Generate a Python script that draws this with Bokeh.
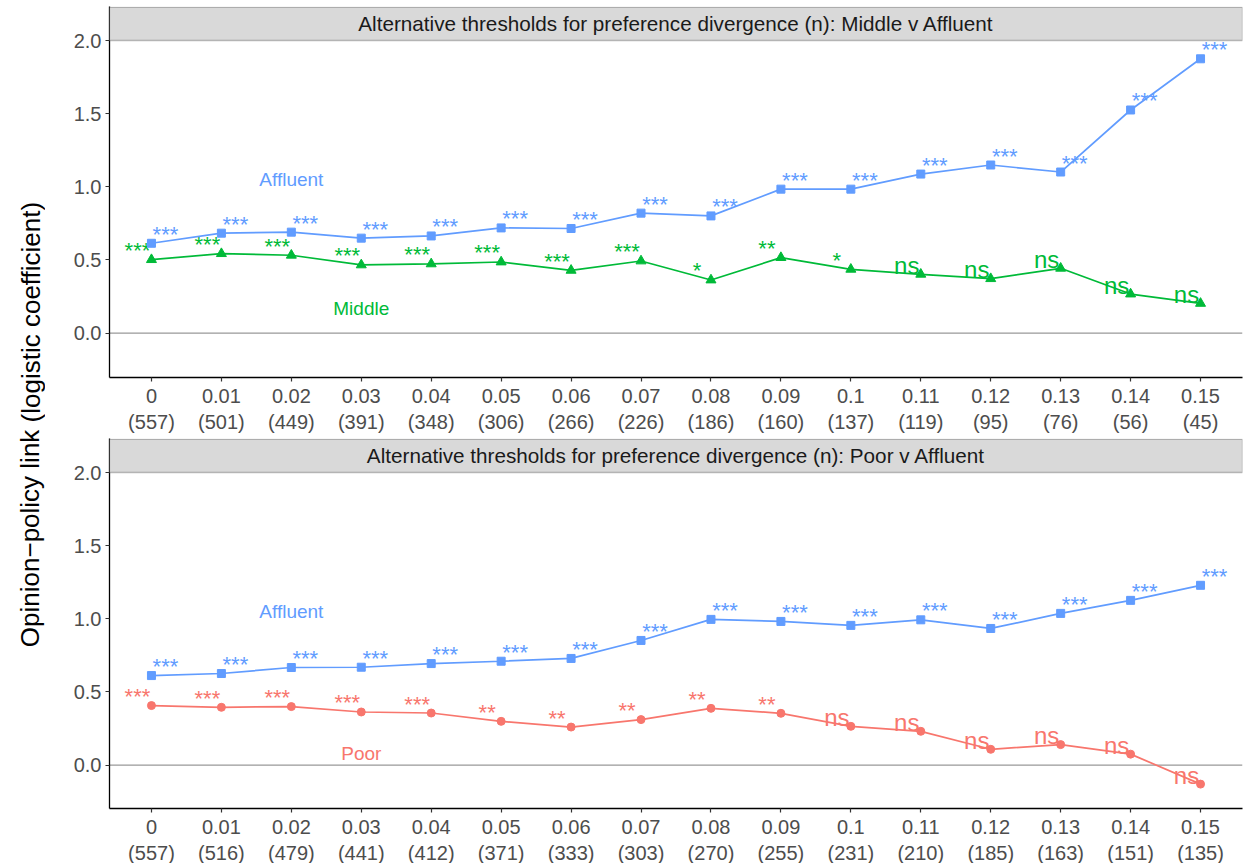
from bokeh.plotting import figure
from bokeh.models import (ColumnDataSource, Range1d, FixedTicker, Span, BoxAnnotation,
                          Label, PrintfTickFormatter)
from bokeh.layouts import row, column
from bokeh.embed import file_html
from bokeh.resources import INLINE
from bokeh.core.properties import value

# ---------------- data ----------------
thresholds = ["0", "0.01", "0.02", "0.03", "0.04", "0.05", "0.06", "0.07",
              "0.08", "0.09", "0.1", "0.11", "0.12", "0.13", "0.14", "0.15"]

n_middle = [557, 501, 449, 391, 348, 306, 266, 226, 186, 160, 137, 119, 95, 76, 56, 45]
n_poor = [557, 516, 479, 441, 412, 371, 333, 303, 270, 255, 231, 210, 185, 163, 151, 135]

top_affluent = [0.614, 0.683, 0.690, 0.649, 0.664, 0.719, 0.715, 0.820,
                0.801, 0.984, 0.984, 1.087, 1.149, 1.101, 1.525, 1.875]
top_affluent_sig = ["***", "***", "***", "***", "***", "***", "***", "***",
                    "***", "***", "***", "***", "***", "***", "***", "***"]
top_middle = [0.502, 0.543, 0.532, 0.466, 0.473, 0.486, 0.429, 0.493,
              0.363, 0.516, 0.436, 0.402, 0.372, 0.443, 0.267, 0.203]
top_middle_sig = ["***", "***", "***", "***", "***", "***", "***", "***",
                  "*", "**", "*", "ns", "ns", "ns", "ns", "ns"]

bot_affluent = [0.612, 0.626, 0.667, 0.669, 0.694, 0.710, 0.729, 0.852,
                0.996, 0.982, 0.955, 0.993, 0.934, 1.037, 1.126, 1.229]
bot_affluent_sig = ["***", "***", "***", "***", "***", "***", "***", "***",
                    "***", "***", "***", "***", "***", "***", "***", "***"]
bot_poor = [0.407, 0.395, 0.400, 0.363, 0.356, 0.299, 0.260, 0.311,
            0.388, 0.354, 0.265, 0.231, 0.108, 0.140, 0.075, -0.130]
bot_poor_sig = ["***", "***", "***", "***", "***", "**", "**", "**",
                "**", "**", "ns", "ns", "ns", "ns", "ns", "ns"]

top_title = "Alternative thresholds for preference divergence (n): Middle v Affluent"
bot_title = "Alternative thresholds for preference divergence (n): Poor v Affluent"
y_title = "Opinion\u2212policy link (logistic coefficient)"

# ---------------- style ----------------
FONT = "Liberation Sans"
BLUE = "#619CFF"
GREEN = "#00BA38"
RED = "#F8766D"
PX_PER_UNIT = 146.3
STRIP_PX = 34
FRAME_W = 1133
LEFT_BORDER = 64
TITLE_W = 45
TOTAL_H = 860


def sig_sizes(sig):
    return ["24px" if s == "ns" else "22px" for s in sig]


def panel(title, n_list, aff, aff_sig, oth, oth_sig, oth_name, oth_color, oth_marker,
          frame_h, top_border, bottom_border):
    yend = 2.0 + STRIP_PX / PX_PER_UNIT
    ystart = yend - frame_h / PX_PER_UNIT
    p = figure(frame_width=FRAME_W, frame_height=frame_h,
               x_range=Range1d(-0.6, 15.6), y_range=Range1d(ystart, yend),
               output_backend="svg", toolbar_location=None,
               min_border_left=LEFT_BORDER, min_border_right=1,
               min_border_top=top_border, min_border_bottom=bottom_border)
    p.outline_line_color = None
    p.xgrid.visible = False
    p.ygrid.visible = False
    p.background_fill_color = "white"

    # strip
    p.add_layout(BoxAnnotation(bottom=2.0, top=yend - 0.8 / PX_PER_UNIT,
                               fill_color="#D9D9D9", fill_alpha=1.0,
                               line_color="#333333", line_width=1.3))
    p.add_layout(Label(x=7.5, y=2.0 + (STRIP_PX / 2.0) / PX_PER_UNIT, text=title,
                       text_align="center", text_baseline="middle",
                       text_font=FONT, text_font_size="20.7px", text_color="#1A1A1A"))

    # zero line
    p.add_layout(Span(location=0, dimension="width", line_color="#999999",
                      line_width=1.4, level="underlay"))

    x = list(range(len(thresholds)))

    # other group (Middle / Poor)
    src_o = ColumnDataSource(dict(x=x, y=oth, sig=oth_sig, fs=sig_sizes(oth_sig)))
    p.line("x", "y", source=src_o, line_color=oth_color, line_width=1.7)
    p.scatter("x", "y", source=src_o, marker=oth_marker,
              size=10 if oth_marker == "triangle" else 8,
              fill_color=oth_color, line_color=oth_color)
    p.text("x", "y", text="sig", source=src_o, text_color=oth_color,
           text_font_size="fs", text_align="center", text_baseline="alphabetic",
           x_offset=-14, y_offset=-9, text_font=value(FONT))

    # affluent
    src_a = ColumnDataSource(dict(x=x, y=aff, sig=aff_sig, fs=sig_sizes(aff_sig)))
    p.line("x", "y", source=src_a, line_color=BLUE, line_width=1.7)
    p.scatter("x", "y", source=src_a, marker="square", size=8,
              fill_color=BLUE, line_color=BLUE)
    p.text("x", "y", text="sig", source=src_a, text_color=BLUE,
           text_font_size="fs", text_align="center", text_baseline="alphabetic",
           x_offset=14, y_offset=-9, text_font=value(FONT))

    # group labels
    p.add_layout(Label(x=2, y=1.05, text="Affluent", text_align="center",
                       text_baseline="middle", text_font=FONT,
                       text_font_size="19px", text_color=BLUE))
    p.add_layout(Label(x=3, y=0.17 if oth_name == "Middle" else 0.08, text=oth_name,
                       text_align="center", text_baseline="middle", text_font=FONT,
                       text_font_size="19px", text_color=oth_color))

    # axes
    p.xaxis.ticker = FixedTicker(ticks=x)
    p.xaxis.major_label_overrides = {i: f"{t}\n({n})" for i, (t, n) in
                                     enumerate(zip(thresholds, n_list))}
    p.yaxis.ticker = FixedTicker(ticks=[0.0, 0.5, 1.0, 1.5, 2.0])
    p.yaxis.formatter = PrintfTickFormatter(format="%.1f")
    for ax in (p.xaxis, p.yaxis):
        ax.axis_line_color = "black"
        ax.axis_line_width = 1.3
        ax.major_tick_line_color = "#333333"
        ax.major_tick_line_width = 1.2
        ax.major_tick_out = 4
        ax.major_tick_in = 0
        ax.minor_tick_line_color = None
        ax.major_label_text_font = FONT
        ax.major_label_text_font_size = "20px"
        ax.major_label_text_color = "#4D4D4D"
    p.xaxis.major_label_standoff = 3
    p.yaxis.major_label_standoff = 4
    return p


top = panel(top_title, n_middle, top_affluent, top_affluent_sig, top_middle,
            top_middle_sig, "Middle", GREEN, "triangle", 371, 6, 61)
bot = panel(bot_title, n_poor, bot_affluent, bot_affluent_sig, bot_poor,
            bot_poor_sig, "Poor", RED, "circle", 370, 0, 52)

ttl = figure(frame_width=TITLE_W, frame_height=TOTAL_H, x_range=Range1d(0, TITLE_W),
             y_range=Range1d(0, TOTAL_H), output_backend="svg", toolbar_location=None,
             min_border=0)
ttl.axis.visible = False
ttl.grid.visible = False
ttl.outline_line_color = None
ttl.add_layout(Label(x=30, y=TOTAL_H - 424, text=y_title, angle=1.5707963,
                     text_align="center", text_baseline="middle", text_font=FONT,
                     text_font_size="26px", text_color="black"))

layout = row(ttl, column(top, bot))
open("out.html", "w").write(file_html(layout, INLINE))
